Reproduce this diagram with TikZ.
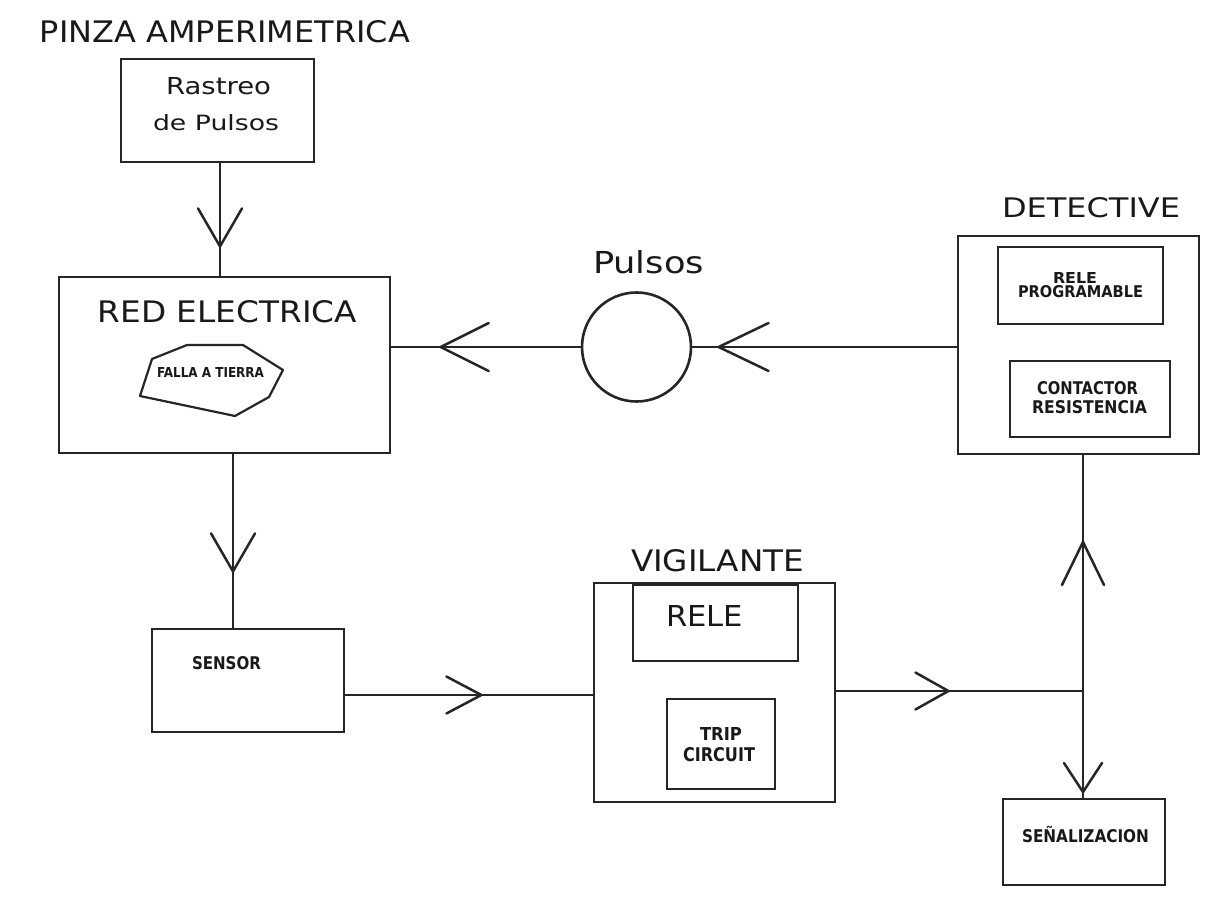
\documentclass[tikz,border=0pt]{standalone}
\usepackage{graphicx}
\usepackage{fontspec}
\setmainfont{DejaVu Sans}
\usetikzlibrary{decorations.markings,calc}
\newcommand{\lbl}[3]{\resizebox{#1}{#2}{#3}}
\tikzset{
  box/.style={draw=black!85, line width=2.8pt, rectangle, inner sep=0pt},
  conn/.style={draw=black!85, line width=2.5pt},
  txt/.style={inner sep=0pt, anchor=center, text=black!90},
  vtip/.style n args={3}{postaction={decorate}, decoration={markings,
     mark=at position #1 with {\draw[black!85, line width=2.5pt, line cap=round, line join=miter] (-#2,#3) -- (0pt,0pt) -- (-#2,-#3);}}}
}
\begin{document}
\begin{tikzpicture}[x=1pt,y=-1pt]
\useasboundingbox[fill=white] (0,0) rectangle (1225,920);

% boxes
\node[box, minimum width=193pt, minimum height=103pt] (rastreo) at (217.5,110.5) {};
\node[box, minimum width=331pt, minimum height=176pt] (red) at (224.5,365) {};
\node[draw=black!85, line width=2.6pt, circle, minimum size=109pt, inner sep=0pt] (pulsos) at (636.5,347) {};
\node[box, minimum width=241pt, minimum height=218pt] (detective) at (1078.5,345) {};
\node[box, minimum width=165pt, minimum height=77pt] (relprog) at (1080.5,285.5) {};
\node[box, minimum width=160pt, minimum height=76pt] (contactor) at (1090,399) {};
\node[box, minimum width=192pt, minimum height=103pt] (sensor) at (248,680.5) {};
\node[box, minimum width=241pt, minimum height=219pt] (vigilante) at (714.5,692.5) {};
\node[box, minimum width=165pt, minimum height=76pt] (rele) at (715.5,623) {};
\node[box, minimum width=108pt, minimum height=90pt] (trip) at (721,744) {};
\node[box, minimum width=162pt, minimum height=86pt] (senal) at (1084,842) {};

% falla a tierra polygon
\draw[black!85, line width=2.2pt, line join=round] (152,359) -- (187,345) -- (243,345) -- (283,370) -- (269,397) -- (235,416) -- (140,396) -- cycle;

% texts
\node[txt] (tpinza) at (225,32) {\lbl{370pt}{22pt}{PINZA AMPERIMETRICA}};
\node[txt] (trastreo) at (218.5,86.5) {\lbl{105pt}{17pt}{Rastreo}};
\node[txt] (tdepulsos) at (216,123) {\lbl{126pt}{16pt}{de Pulsos}};
\node[txt] (tred) at (227.5,312) {\lbl{259pt}{22pt}{RED ELECTRICA}};
\node[txt] (tfalla) at (210.5,372.5) {\lbl{107pt}{10pt}{\bfseries FALLA A TIERRA}};
\node[txt] (tpulsos) at (648.5,262) {\lbl{111pt}{23pt}{Pulsos}};
\node[txt] (tdetective) at (1091,208) {\lbl{178pt}{20pt}{DETECTIVE}};
\node[txt] (trele1) at (1075,277.5) {\lbl{44pt}{11pt}{\bfseries RELE}};
\node[txt] (tprog) at (1080.5,292) {\lbl{125pt}{12pt}{\bfseries PROGRAMABLE}};
\node[txt] (tcont) at (1087.5,388) {\lbl{101pt}{13pt}{\bfseries CONTACTOR}};
\node[txt] (tres) at (1089.5,407.5) {\lbl{115pt}{13pt}{\bfseries RESISTENCIA}};
\node[txt] (tsensor) at (226.5,663) {\lbl{69pt}{13pt}{\bfseries SENSOR}};
\node[txt] (tvig) at (717.5,561) {\lbl{173pt}{22pt}{VIGILANTE}};
\node[txt] (trele2) at (704.5,615.5) {\lbl{77pt}{21pt}{RELE}};
\node[txt] (ttrip) at (721,733.5) {\lbl{42pt}{13pt}{\bfseries TRIP}};
\node[txt] (tcirc) at (719,755) {\lbl{72pt}{14pt}{\bfseries CIRCUIT}};
\node[txt] (tsenal) at (1085.5,836.5) {\lbl{127pt}{13pt}{\bfseries SE\smash{Ñ}ALIZACION}};

% connectors
\coordinate (jn) at (1083,691);
\draw[conn, vtip={83pt}{38pt}{22pt}] ([xshift=2.5pt]rastreo.south) -- ([xshift=2.5pt]rastreo.south |- red.north);
\draw[conn, vtip={140pt}{48pt}{24pt}] (pulsos.west) -- (pulsos.west -| red.east);
\draw[conn, vtip={238pt}{50pt}{24pt}] (pulsos.east -| detective.west) -- (pulsos.east);
\draw[conn, vtip={117pt}{38pt}{22pt}] ([xshift=8.5pt]red.south) -- ([xshift=8.5pt]red.south |- sensor.north);
\draw[conn, vtip={136pt}{35pt}{18.5pt}] ([yshift=-14.5pt]sensor.east) -- ([yshift=-14.5pt]sensor.east -| vigilante.west);
\draw[conn, vtip={112pt}{33pt}{18.5pt}] (jn -| vigilante.east) -- (jn);
\draw[conn, vtip={149pt}{43pt}{21pt}] (jn) -- (jn |- detective.south);
\draw[conn, vtip={101pt}{29pt}{19pt}] (jn) -- (jn |- senal.north);
\end{tikzpicture}
\end{document}
